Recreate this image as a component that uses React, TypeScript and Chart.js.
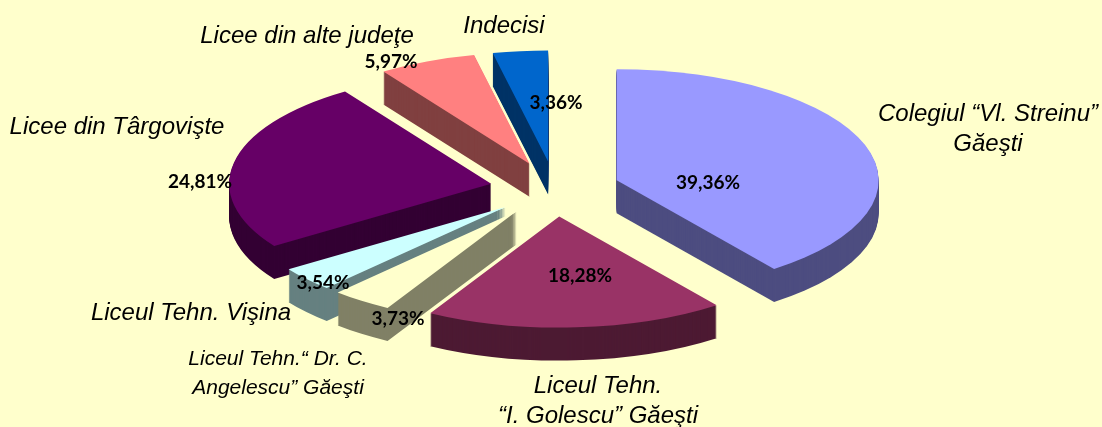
import React, { useEffect, useRef } from "react";
import { Chart, registerables } from "chart.js";

Chart.register(...registerables);

const categories = [
  ["Colegiul “Vl. Streinu”", "Găeşti"],
  ["Liceul Tehn.", "“I. Golescu” Găeşti"],
  ["Liceul Tehn.“ Dr. C.", "Angelescu” Găeşti"],
  ["Liceul Tehn. Vişina"],
  ["Licee din Târgovişte"],
  ["Licee din alte judeţe"],
  ["Indecisi"],
];
const shares = [39.36, 18.28, 3.73, 3.54, 24.81, 5.97, 3.36];
const topColors = ["#9999FF", "#993366", "#FFFFCC", "#CCFFFF", "#660066", "#FF8080", "#0066CC"];
const wallColors = ["#4D4D80", "#4D1A33", "#808066", "#668080", "#330033", "#804040", "#003366"];

const W = 1102;
const H = 427;
const RADIUS = 262;
const EXPLODE = 65;
const TILT = 0.424;
const DEPTH = 33;
const CENTER_X = 555;
const CENTER_Y = 189;
const PAINT_ORDER = [6, 5, 0, 4, 3, 2, 1];

const NAME_FONT = 'italic 24px "Liberation Sans"';
const SMALL_FONT = 'italic 21px "Liberation Sans"';
const VALUE_FONT = 'bold 19px Lato';

// per-slice text layout: centre x and baseline of each name line, centre of the value
const nameLayout = [
  { x: 988, ys: [121, 151], font: NAME_FONT },
  { x: 598, ys: [393, 423], font: NAME_FONT },
  { x: 278, ys: [365, 394], font: SMALL_FONT },
  { x: 191, ys: [320], font: NAME_FONT },
  { x: 117, ys: [134], font: NAME_FONT },
  { x: 307, ys: [43], font: NAME_FONT },
  { x: 504, ys: [33], font: NAME_FONT },
];
const valueLayout = [
  [708, 183],
  [580, 276],
  [398, 319],
  [323, 283],
  [200, 182],
  [391, 62],
  [556, 103],
];

const tiltedPie = {
  id: "tiltedPie",
  beforeDatasetsDraw(chart: any) {
    const { ctx } = chart;
    const arcs = chart.getDatasetMeta(0).data;
    const drawArc = (i: number, dz: number, color: string) => {
      const arc = arcs[i];
      const mid = (arc.startAngle + arc.endAngle) / 2;
      const original = arc.options;
      arc.options = { ...original, backgroundColor: color, borderWidth: 0 };
      ctx.save();
      ctx.translate(CENTER_X, CENTER_Y + dz);
      ctx.scale(1, TILT);
      ctx.translate(Math.cos(mid) * EXPLODE, Math.sin(mid) * EXPLODE);
      ctx.translate(-arc.x, -arc.y);
      arc.draw(ctx);
      ctx.restore();
      arc.options = original;
    };
    for (const i of PAINT_ORDER) {
      for (let dz = DEPTH; dz > 0; dz -= 1) drawArc(i, dz, wallColors[i]);
      drawArc(i, 0, topColors[i]);
    }
    return false;
  },
  afterDraw(chart: any) {
    const { ctx } = chart;
    ctx.save();
    ctx.textAlign = "center";
    ctx.textBaseline = "alphabetic";
    ctx.fillStyle = "#000000";
    categories.forEach((lines, i) => {
      const layout = nameLayout[i];
      ctx.font = layout.font;
      lines.forEach((line, k) => ctx.fillText(line, layout.x, layout.ys[k]));
    });
    ctx.font = VALUE_FONT;
    ctx.textBaseline = "middle";
    shares.forEach((v, i) => {
      const text = v.toFixed(2).replace(".", ",") + "%";
      ctx.fillText(text, valueLayout[i][0], valueLayout[i][1]);
    });
    ctx.restore();
  },
};

export default function App() {
  const ref = useRef<HTMLCanvasElement>(null);
  useEffect(() => {
    const chart = new Chart(ref.current!, {
      type: "pie",
      data: {
        labels: categories.map((c) => c.join(" ")),
        datasets: [{ data: shares, backgroundColor: topColors, borderWidth: 0 }],
      },
      options: {
        animation: false,
        responsive: false,
        radius: RADIUS,
        layout: { padding: 0 },
        plugins: { legend: { display: false }, tooltip: { enabled: false } },
      } as any,
      plugins: [tiltedPie as any],
    });
    return () => chart.destroy();
  }, []);
  return (
    <canvas
      ref={ref}
      width={W}
      height={H}
      style={{ position: "fixed", left: 0, top: 0, width: W, height: H, background: "#FFFFCC" }}
    />
  );
}
